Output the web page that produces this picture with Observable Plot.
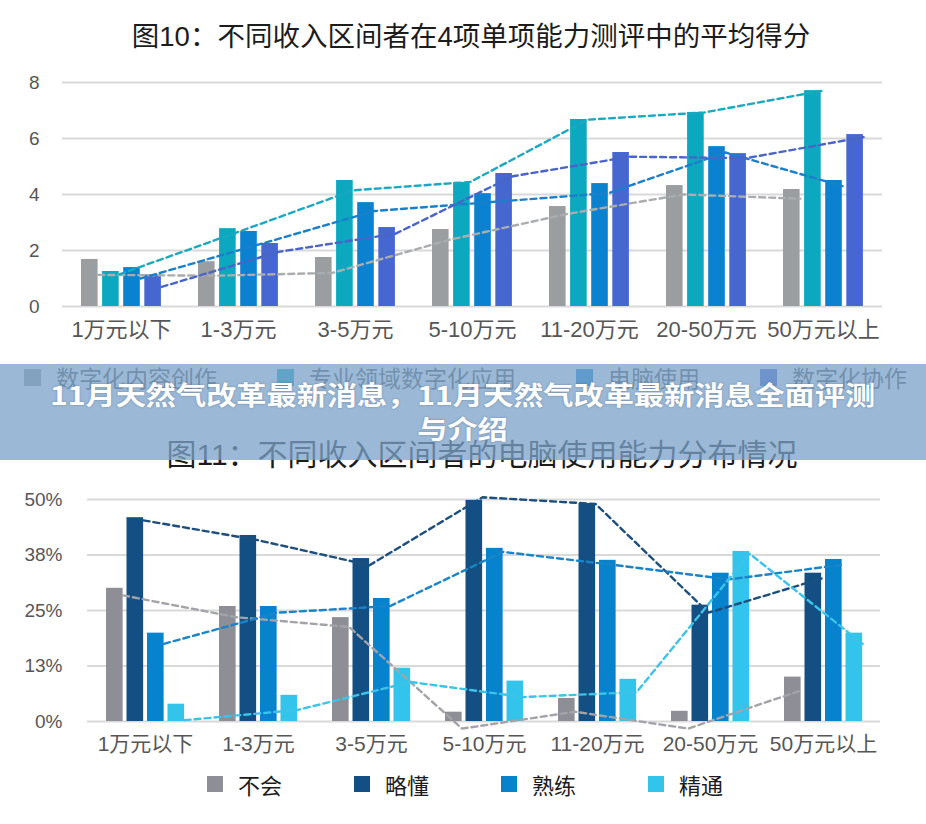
<!DOCTYPE html>
<html>
<head>
<meta charset="utf-8">
<script src="https://cdn.jsdelivr.net/npm/d3@7"></script>
<script src="https://cdn.jsdelivr.net/npm/@observablehq/plot@0.6"></script>
<style>
  html, body { margin: 0; padding: 0; background: #fff; }
  #root { position: relative; width: 926px; height: 824px; overflow: hidden;
    font-family: "Liberation Sans", "Noto Sans CJK SC", sans-serif; }
  .title { position: absolute; width: 926px; text-align: center; color: #1c1c1c;
    font-family: "Liberation Sans", "Noto Sans CJK SC", sans-serif; line-height: 40px; white-space: nowrap; }
  .legend { position: absolute; display: flex; align-items: center; white-space: nowrap; }
  .legend .item { display: flex; align-items: center; }
  .legend .sw { display: inline-block; }
  #banner { position: absolute; left: 0; top: 364px; width: 926px; height: 96px;
    background: rgba(124, 163, 201, 0.76); }
  #bannerText { position: absolute; left: 0; top: 377px; width: 926px; text-align: center;
    color: #fff; font-weight: bold; font-size: 26px; line-height: 34px;
    font-family: "Noto Sans CJK SC", sans-serif; text-shadow: 0 0 2px rgba(40,60,90,0.45);
    transform: scaleX(1.16); transform-origin: 466px 0; }
</style>
</head>
<body>
<div id="root">
  <div class="title" id="t1" style="top:17px;left:8px;font-size:27.5px;"></div>
  <div id="c1" style="position:absolute;left:0;top:60px;"></div>
  <div class="legend" id="lg1" style="left:24px;top:364px;height:26px;"></div>
  <div class="title" id="t2" style="top:435px;left:19px;font-size:30px;"></div>
  <div id="c2" style="position:absolute;left:0;top:480px;"></div>
  <div class="legend" id="lg2" style="left:207px;top:771px;height:26px;"></div>
  <div id="banner"></div>
  <div id="bannerText"></div>
</div>
<script>
// ---------- text ----------
const title1 = "图10：不同收入区间者在4项单项能力测评中的平均得分";
const title2 = "图11：不同收入区间者的电脑使用能力分布情况";
const bannerLines = ["11月天然气改革最新消息，11月天然气改革最新消息全面评测", "与介绍"];

// ---------- shared categories ----------
const categories = ["1万元以下", "1-3万元", "3-5万元", "5-10万元", "11-20万元", "20-50万元", "50万元以上"];

// ---------- chart 1: average scores ----------
const series1 = ["数字化内容创作", "专业领域数字化应用", "电脑使用", "数字化协作"];
const colors1 = ["#9a9ea0", "#0ba8c0", "#0a82d0", "#4767d0"];
const lineColors1 = ["#a9adaf", "#1aa9c1", "#1a80c9", "#4a64c8"];
const contentCreation = [1.68, 1.60, 1.75, 2.75, 3.57, 4.32, 4.18];
const professionalApp = [1.25, 2.78, 4.50, 4.43, 6.68, 6.93, 7.71];
const computerUse     = [1.39, 2.68, 3.71, 4.03, 4.39, 5.71, 4.50];
const collaboration   = [1.13, 2.25, 2.82, 4.75, 5.50, 5.46, 6.14];
// dashed trend lines as drawn
const contentCreationLine = [1.13, 1.10, 1.20, 2.38, 3.30, 4.00, 3.85];
const professionalAppLine = [1.15, 2.64, 4.15, 4.45, 6.67, 6.93, 7.70];
const computerUseLine     = [1.00, 2.20, 3.41, 3.73, 4.05, 5.50, 4.30];
const collaborationLine   = [0.70, 1.95, 2.60, 4.65, 5.35, 5.30, 6.05];
const yTicks1 = [0, 2, 4, 6, 8];

// ---------- chart 2: computer skill distribution (%) ----------
const series2 = ["不会", "略懂", "熟练", "精通"];
const colors2 = ["#8e8e96", "#134f82", "#0783ce", "#33c4ec"];
const lineColors2 = ["#a3a3aa", "#1d4f7d", "#1a84c8", "#3cc3e8"];
const cannot  = [30.0, 25.9, 23.4, 2.1, 5.2, 2.3, 10.0];
const basic   = [45.9, 41.9, 36.7, 49.8, 49.1, 26.2, 33.4];
const skilled = [19.9, 25.9, 27.7, 39.0, 36.3, 33.4, 36.5];
const expert  = [3.9, 5.9, 12.0, 9.1, 9.5, 38.3, 19.9];
const cannotLine  = [28.4, 23.5, 21.3, -1.6, 2.2, -1.6, 7.0];
const basicLine   = [45.3, 40.9, 35.2, 50.5, 49.0, 24.5, 32.2];
const skilledLine = [17.5, 24.5, 26.0, 38.2, 35.2, 32.0, 35.3];
const expertLine  = [0.3, 2.6, 8.9, 5.5, 6.6, 37.8, 17.5];
const yTicks2 = [0, 12.5, 25, 37.5, 50];

// ---------- builder ----------
function buildChart(cfg) {
  const n = cfg.cats.length;
  const inner = cfg.width - cfg.ml - cfg.mr;
  const step = inner / (n - cfg.pI + 2 * cfg.pO);
  const bw = step * (1 - cfg.pI);
  const marks = [Plot.ruleY(cfg.yTicks, {stroke: "#d9d9d9", strokeWidth: 2})];
  cfg.values.forEach((vals, i) => {
    const data = cfg.cats.map((c, j) => ({cat: c, v: vals[j]}));
    marks.push(Plot.barY(data, {
      x: "cat", y: "v", fill: cfg.colors[i],
      insetLeft: cfg.barStep * i,
      insetRight: bw - cfg.barStep * i - cfg.barW
    }));
  });
  cfg.lines.forEach((vals, i) => {
    const data = cfg.cats.map((c, j) => ({cat: c, v: vals[j]}));
    marks.push(Plot.line(data, {
      x: "cat", y: "v", stroke: cfg.lineColors[i], strokeWidth: 2.4,
      strokeDasharray: "6,4",
      dx: cfg.barStep * i + cfg.barW - bw / 2
    }));
  });
  marks.push(Plot.axisX({tickSize: 0, tickPadding: cfg.xPad, fontSize: cfg.xFont, label: null}));
  marks.push(Plot.axisY({ticks: cfg.yTicks, tickSize: 0, tickPadding: cfg.yPad, fontSize: cfg.yFont,
    tickFormat: cfg.tickFormat, label: null}));
  return Plot.plot({
    width: cfg.width, height: cfg.height,
    marginLeft: cfg.ml, marginRight: cfg.mr, marginTop: cfg.mt, marginBottom: cfg.mb,
    style: {fontFamily: '"Liberation Sans", "Noto Sans CJK SC", sans-serif', color: "#565656", background: "transparent", overflow: "visible"},
    x: {type: "band", domain: cfg.cats, paddingInner: cfg.pI, paddingOuter: cfg.pO, align: 0.5},
    y: {domain: cfg.yDomain},
    marks
  });
}

document.getElementById("c1").appendChild(buildChart({
  cats: categories, width: 926, height: 300, ml: 62, mr: 44, mt: 22, mb: 54,
  pI: 0.313, pO: 0.16, barStep: 21.1, barW: 17,
  values: [contentCreation, professionalApp, computerUse, collaboration],
  lines: [contentCreationLine, professionalAppLine, computerUseLine, collaborationLine],
  colors: colors1, lineColors: lineColors1,
  yDomain: [0, 8], yTicks: yTicks1, tickFormat: d => String(d),
  xFont: 22, xPad: 15, yFont: 19, yPad: 23
}));

document.getElementById("c2").appendChild(buildChart({
  cats: categories, width: 926, height: 280, ml: 87, mr: 46, mt: 19, mb: 39,
  pI: 0.312, pO: 0.159, barStep: 20.5, barW: 16.5,
  values: [cannot, basic, skilled, expert],
  lines: [cannotLine, basicLine, skilledLine, expertLine],
  colors: colors2, lineColors: lineColors2,
  yDomain: [0, 50], yTicks: yTicks2, tickFormat: d => Math.round(d) + "%",
  xFont: 21, xPad: 15, yFont: 19, yPad: 25
}));

// ---------- titles, legends, banner ----------
document.getElementById("t1").textContent = title1;
document.getElementById("t2").textContent = title2;

function buildLegend(el, names, colors, opts) {
  names.forEach((name, i) => {
    const item = document.createElement("div");
    item.className = "item";
    if (i > 0) item.style.marginLeft = opts.gap + "px";
    const sw = document.createElement("span");
    sw.className = "sw";
    sw.style.width = opts.sw + "px";
    sw.style.height = opts.sw + "px";
    sw.style.background = colors[i];
    sw.style.marginRight = opts.swGap + "px";
    const tx = document.createElement("span");
    tx.textContent = name;
    tx.style.fontSize = opts.font + "px";
    tx.style.color = opts.color;
    tx.style.fontFamily = '"Noto Sans CJK SC", sans-serif';
    tx.style.lineHeight = "26px";
    item.appendChild(sw);
    item.appendChild(tx);
    el.appendChild(item);
  });
}
buildLegend(document.getElementById("lg1"), series1, colors1, {gap: 60, sw: 17, swGap: 15, font: 23, color: "#565656"});
buildLegend(document.getElementById("lg2"), series2, colors2, {gap: 72, sw: 16, swGap: 15, font: 22, color: "#1c1c1c"});

document.getElementById("bannerText").innerHTML = bannerLines.map(s => "<div>" + s + "</div>").join("");
</script>
</body>
</html>
